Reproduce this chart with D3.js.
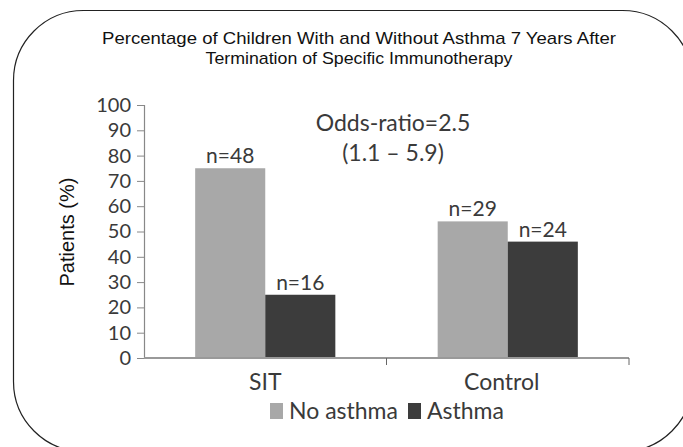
<!DOCTYPE html>
<html lang="en">
<head>
  <meta charset="utf-8">
  <title>Asthma after SIT</title>
  <script src="https://d3js.org/d3.v7.min.js"></script>
  <style>
    body { margin: 0; background: #fff; }
    .gill { font-family: Lato, "Open Sans", sans-serif; fill: #3a3a3a; }
  </style>
</head>
<body>
  <svg width="683" height="447"></svg>
  <script>
    const groups = ["SIT", "Control"];
    const keys = ["No asthma", "Asthma"];
    const noAsthma = [75, 54];
    const asthma = [25, 46];
    const counts = [["n=48", "n=16"], ["n=29", "n=24"]];
    const yTicks = d3.range(0, 101, 10);
    const titleLines = [
      "Percentage of Children With and Without Asthma 7 Years After",
      "Termination of Specific Immunotherapy"
    ];
    const colors = ["#a8a8a8", "#3c3c3c"];

    const svg = d3.select("svg");

    // rounded frame, partly outside the picture
    svg.append("rect")
      .attr("x", 13.5).attr("y", 10.5)
      .attr("width", 679).attr("height", 441)
      .attr("rx", 70).attr("ry", 70)
      .attr("fill", "none").attr("stroke", "#222").attr("stroke-width", 1.2);

    // title is a bit wider than plain Arial
    const titleWidths = [514, 307];
    svg.selectAll("text.title")
      .data(titleLines)
      .join("text")
      .attr("class", "title")
      .attr("x", 359).attr("y", (d, i) => 44 + i * 20)
      .attr("text-anchor", "middle")
      .attr("textLength", (d, i) => titleWidths[i])
      .attr("lengthAdjust", "spacingAndGlyphs")
      .style("font-family", "Arial, 'Liberation Sans', sans-serif")
      .style("font-size", "17px")
      .style("fill", "#111")
      .text(d => d);

    const plotLeft = 144, plotRight = 629, plotTop = 105, plotBottom = 358;

    const y = d3.scaleLinear().domain([0, 100]).range([plotBottom, plotTop]);
    const x0 = d3.scaleBand().domain(groups).range([plotLeft, plotRight]);
    const x1 = d3.scaleBand().domain(keys).range([0, x0.bandwidth()])
      .paddingInner(0).paddingOuter(0.73);

    // y axis
    const yAxis = svg.append("g")
      .attr("transform", `translate(${plotLeft},0)`)
      .call(d3.axisLeft(y).tickValues(yTicks).tickSize(7).tickPadding(6));
    yAxis.select(".domain").attr("stroke", "#888").attr("stroke-width", 1.2);
    yAxis.selectAll(".tick line").attr("stroke", "#888");
    yAxis.selectAll(".tick text")
      .attr("class", "gill")
      .style("font-size", "20px")
      .attr("fill", null);

    const rows = groups.map((g, i) => ({ group: g, values: [noAsthma[i], asthma[i]], labels: counts[i] }));

    const g = svg.selectAll("g.grp")
      .data(rows)
      .join("g")
      .attr("class", "grp")
      .attr("transform", d => `translate(${x0(d.group)},0)`);

    g.selectAll("rect")
      .data(d => keys.map((k, j) => ({ key: k, value: d.values[j], label: d.labels[j], c: colors[j] })))
      .join("rect")
      .attr("x", d => x1(d.key))
      .attr("y", d => y(d.value))
      .attr("width", x1.bandwidth())
      .attr("height", d => y(0) - y(d.value))
      .attr("fill", d => d.c);

    g.selectAll("text.n")
      .data(d => keys.map((k, j) => ({ key: k, value: d.values[j], label: d.labels[j] })))
      .join("text")
      .attr("class", "n gill")
      .attr("x", d => x1(d.key) + x1.bandwidth() / 2)
      .attr("y", d => y(d.value) - 5)
      .attr("text-anchor", "middle")
      .style("font-size", "21px")
      .text(d => d.label);

    // x axis
    const xAxis = svg.append("g")
      .attr("transform", `translate(0,${plotBottom})`);
    xAxis.append("line")
      .attr("x1", plotLeft).attr("x2", plotRight)
      .attr("stroke", "#999").attr("stroke-width", 2);
    xAxis.selectAll("line.tk")
      .data([x0("Control"), plotRight])
      .join("line")
      .attr("class", "tk")
      .attr("x1", d => d).attr("x2", d => d)
      .attr("y1", 0).attr("y2", 7)
      .attr("stroke", "#666");
    xAxis.selectAll("text")
      .data(groups)
      .join("text")
      .attr("class", "gill")
      .attr("x", (d, i) => x0(d) + x0.bandwidth() / 2 - (i ? 6 : 0))
      .attr("y", 32)
      .attr("text-anchor", "middle")
      .style("font-size", "23px")
      .text(d => d);

    svg.append("text").attr("class", "gill")
      .attr("transform", "translate(74,232) rotate(-90)")
      .attr("text-anchor", "middle")
      .style("font-family", "Arial, 'Liberation Sans', sans-serif")
      .style("font-size", "20px")
      .style("fill", "#111")
      .text("Patients (%)");

    svg.selectAll("text.odds")
      .data(["Odds-ratio=2.5", "(1.1 \u2013 5.9)"])
      .join("text")
      .attr("class", "odds gill")
      .attr("x", 393).attr("y", (d, i) => 131 + i * 30)
      .attr("text-anchor", "middle")
      .style("font-size", "23px")
      .text(d => d);

    // legend
    const legend = svg.append("g").attr("transform", "translate(270,403)");
    const lx = [0, 138];
    keys.forEach((k, j) => {
      legend.append("rect")
        .attr("x", lx[j]).attr("y", 0)
        .attr("width", 13).attr("height", 16)
        .attr("fill", colors[j]);
      legend.append("text").attr("class", "gill")
        .attr("x", lx[j] + 19).attr("y", 16)
        .style("font-size", "23px")
        .text(k);
    });
  </script>
</body>
</html>
